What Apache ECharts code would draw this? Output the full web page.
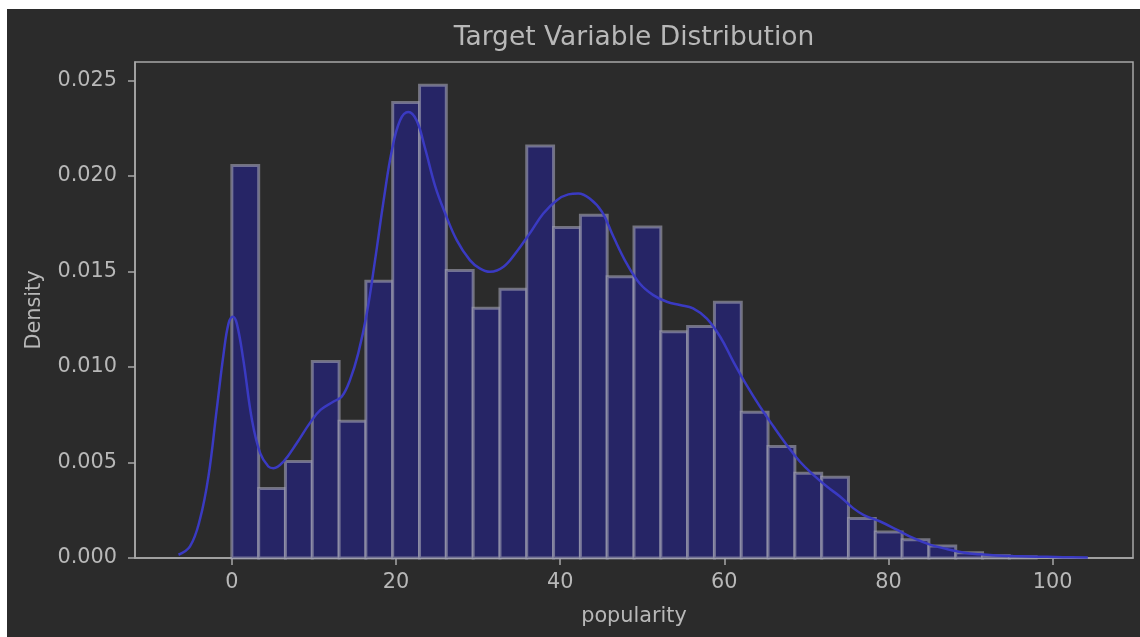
<!DOCTYPE html>
<html>
<head>
<meta charset="utf-8">
<script src="https://cdn.jsdelivr.net/npm/echarts@6/dist/echarts.min.js"></script>
<style>
  html, body { margin: 0; padding: 0; background: #ffffff; width: 1140px; height: 637px; overflow: hidden; }
  #chart { position: absolute; left: 7px; top: 9px; width: 1133px; height: 628px; }
</style>
</head>
<body>
<div id="chart"></div>
<script>
// Histogram bin edges (popularity) and density heights
const binEdges = [0, 3.27, 6.53, 9.8, 13.07, 16.33, 19.6, 22.87, 26.13, 29.4, 32.67, 35.93, 39.2, 42.47, 45.73, 49, 52.27, 55.53, 58.8, 62.07, 65.33, 68.6, 71.87, 75.13, 78.4, 81.67, 84.93, 88.2, 91.47, 94.73, 98];
const density = [0.02054, 0.00364, 0.00505, 0.01028, 0.00716, 0.01449, 0.02384, 0.02474, 0.01505, 0.01307,
                 0.01406, 0.02157, 0.01730, 0.01794, 0.01472, 0.01733, 0.01184, 0.01211, 0.01338, 0.00763,
                 0.00583, 0.00444, 0.00422, 0.00207, 0.00136, 0.00095, 0.00063, 0.00028, 0.00012, 0.00006];

// KDE curve
const kdeX = [-6.5, -5.1, -3.9, -2.85, -1.85, -1.0, -0.4, 0.12, 0.6, 1.4, 2.45, 3.45, 4.45, 5.07, 6.3, 7.9, 9.5, 10.8, 12.4, 13.4,
              14.4, 15.4, 16.45, 17.45, 18.5, 19.5, 20.5, 21.5, 22.5, 23.5, 24.8, 26.0, 27.4, 29.0, 30.2, 31.45, 33.1, 34.7, 36.3, 37.95,
              39.6, 41.0, 42.2, 43.6, 45.1, 46.5, 48.1, 49.7, 51.35, 53.0, 54.6, 56.2, 57.85, 59.5, 61.1, 62.7, 64.35, 66.0, 67.6, 69.2,
              70.85, 72.5, 74.1, 75.7, 77.0, 79.0, 81.0, 83.0, 85.05, 87.1, 89.1, 91.1, 93.2, 95.2, 97.2, 99.3, 101.3, 104.3];
const kdeY = [0.00017, 0.00061, 0.0020, 0.00427, 0.00775, 0.01071, 0.01228, 0.01263, 0.01228, 0.01037, 0.00723, 0.00549, 0.00479, 0.0047, 0.00505, 0.00601, 0.00706, 0.00775, 0.00819, 0.00845,
              0.00932, 0.01071, 0.01281, 0.01559, 0.01873, 0.02134, 0.02291, 0.02334, 0.02291, 0.02151, 0.01942, 0.01803, 0.01664, 0.01559, 0.01516, 0.01498, 0.01524, 0.01603, 0.01699, 0.01803,
              0.01873, 0.01903, 0.01908, 0.01882, 0.01812, 0.01681, 0.01542, 0.01437, 0.01376, 0.01341, 0.01324, 0.01307, 0.01254, 0.01158, 0.01028, 0.00906, 0.00792, 0.00688, 0.00592, 0.00505,
              0.00435, 0.00374, 0.00322, 0.00261, 0.00225, 0.00191, 0.00148, 0.00105, 0.0007, 0.00047, 0.00029, 0.00019, 0.00013, 0.0001, 0.00008, 0.00006, 0.00004, 0.00002];

const xTicks = [0, 20, 40, 60, 80, 100];
const yTicks = [0, 0.005, 0.010, 0.015, 0.020, 0.025];

const FONT = 'DejaVu Sans';
const TEXT = '#b8b8b8';
const LINE = '#a8a8a8';

const barData = density.map((d, i) => [binEdges[i], binEdges[i + 1], d]);
const kdeData = kdeX.map((x, i) => [x, kdeY[i]]);

const chart = echarts.init(document.getElementById('chart'), null, { renderer: 'canvas' });
chart.setOption({
  backgroundColor: '#2b2b2b',
  animation: false,
  title: {
    text: 'Target Variable Distribution',
    left: 627,
    top: 16,
    textAlign: 'center',
    padding: 0,
    textStyle: { fontFamily: FONT, fontSize: 26.5, fontWeight: 'normal', color: TEXT }
  },
  grid: {
    left: 128, right: 7, top: 53, bottom: 79,
    show: true, borderColor: LINE, borderWidth: 1.5, backgroundColor: 'transparent'
  },
  xAxis: {
    type: 'value',
    min: -11.8, max: 109.8,
    name: 'popularity',
    nameLocation: 'middle',
    nameGap: 48,
    nameTextStyle: { fontFamily: FONT, fontSize: 20.8, color: TEXT },
    axisLine: { show: true, onZero: false, lineStyle: { color: LINE, width: 1.5 } },
    axisTick: { show: true, inside: false, length: 7, lineStyle: { color: LINE, width: 1.5 }, customValues: xTicks },
    axisLabel: { fontFamily: FONT, fontSize: 20.8, color: TEXT, margin: 14, customValues: xTicks },
    splitLine: { show: false }
  },
  yAxis: {
    type: 'value',
    min: 0, max: 0.02596,
    name: 'Density',
    nameLocation: 'middle',
    nameGap: 90,
    nameTextStyle: { fontFamily: FONT, fontSize: 20.8, color: TEXT },
    axisLine: { show: true, onZero: false, lineStyle: { color: LINE, width: 1.5 } },
    axisTick: { show: true, inside: false, length: 7, lineStyle: { color: LINE, width: 1.5 }, customValues: yTicks },
    axisLabel: { fontFamily: FONT, fontSize: 20.8, color: TEXT, margin: 18, customValues: yTicks,
                 formatter: v => v.toFixed(3) },
    splitLine: { show: false }
  },
  series: [
    {
      type: 'custom',
      data: barData,
      z: 2,
      renderItem: function (params, api) {
        const p0 = api.coord([api.value(0), api.value(2)]);
        const p1 = api.coord([api.value(1), 0]);
        return {
          type: 'rect',
          shape: { x: p0[0], y: p0[1], width: p1[0] - p0[0], height: p1[1] - p0[1] },
          style: { fill: '#262566', stroke: 'rgba(160,160,178,0.62)', lineWidth: 3 }
        };
      }
    },
    {
      type: 'line',
      data: kdeData,
      z: 3,
      symbol: 'none',
      smooth: 0.4,
      lineStyle: { color: '#3a3ac2', width: 2.5 }
    }
  ]
});
</script>
</body>
</html>
